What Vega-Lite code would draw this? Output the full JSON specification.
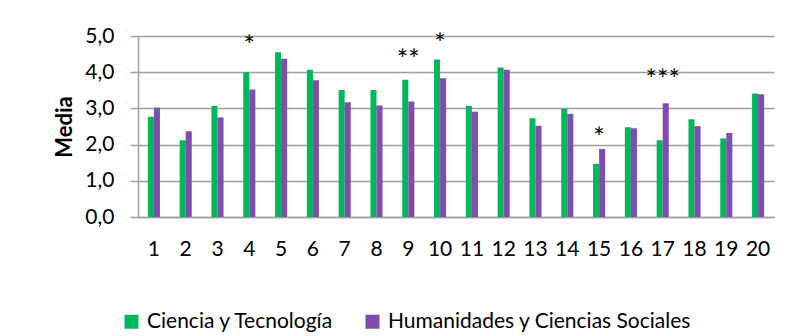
{
  "$schema": "https://vega.github.io/schema/vega-lite/v6.json",
  "width": 636,
  "height": 181,
  "autosize": "none",
  "padding": {"left": 138, "top": 36, "right": 31, "bottom": 119},
  "config": {
    "font": "Lato",
    "view": {"stroke": null},
    "axis": {"labelColor": "#000000", "titleColor": "#000000"}
  },
  "datasets": {
    "medias": [
      {"item": 1, "grupo": "Ciencia y Tecnología", "media": 2.77},
      {"item": 1, "grupo": "Humanidades y Ciencias Sociales", "media": 3.02},
      {"item": 2, "grupo": "Ciencia y Tecnología", "media": 2.12},
      {"item": 2, "grupo": "Humanidades y Ciencias Sociales", "media": 2.37},
      {"item": 3, "grupo": "Ciencia y Tecnología", "media": 3.07},
      {"item": 3, "grupo": "Humanidades y Ciencias Sociales", "media": 2.75},
      {"item": 4, "grupo": "Ciencia y Tecnología", "media": 4.0},
      {"item": 4, "grupo": "Humanidades y Ciencias Sociales", "media": 3.52},
      {"item": 5, "grupo": "Ciencia y Tecnología", "media": 4.55},
      {"item": 5, "grupo": "Humanidades y Ciencias Sociales", "media": 4.37},
      {"item": 6, "grupo": "Ciencia y Tecnología", "media": 4.07},
      {"item": 6, "grupo": "Humanidades y Ciencias Sociales", "media": 3.78},
      {"item": 7, "grupo": "Ciencia y Tecnología", "media": 3.51},
      {"item": 7, "grupo": "Humanidades y Ciencias Sociales", "media": 3.17},
      {"item": 8, "grupo": "Ciencia y Tecnología", "media": 3.51},
      {"item": 8, "grupo": "Humanidades y Ciencias Sociales", "media": 3.08},
      {"item": 9, "grupo": "Ciencia y Tecnología", "media": 3.79},
      {"item": 9, "grupo": "Humanidades y Ciencias Sociales", "media": 3.19},
      {"item": 10, "grupo": "Ciencia y Tecnología", "media": 4.35},
      {"item": 10, "grupo": "Humanidades y Ciencias Sociales", "media": 3.83},
      {"item": 11, "grupo": "Ciencia y Tecnología", "media": 3.07},
      {"item": 11, "grupo": "Humanidades y Ciencias Sociales", "media": 2.91},
      {"item": 12, "grupo": "Ciencia y Tecnología", "media": 4.13},
      {"item": 12, "grupo": "Humanidades y Ciencias Sociales", "media": 4.07},
      {"item": 13, "grupo": "Ciencia y Tecnología", "media": 2.73},
      {"item": 13, "grupo": "Humanidades y Ciencias Sociales", "media": 2.52},
      {"item": 14, "grupo": "Ciencia y Tecnología", "media": 2.99},
      {"item": 14, "grupo": "Humanidades y Ciencias Sociales", "media": 2.85},
      {"item": 15, "grupo": "Ciencia y Tecnología", "media": 1.47},
      {"item": 15, "grupo": "Humanidades y Ciencias Sociales", "media": 1.88},
      {"item": 16, "grupo": "Ciencia y Tecnología", "media": 2.48},
      {"item": 16, "grupo": "Humanidades y Ciencias Sociales", "media": 2.45},
      {"item": 17, "grupo": "Ciencia y Tecnología", "media": 2.12},
      {"item": 17, "grupo": "Humanidades y Ciencias Sociales", "media": 3.14},
      {"item": 18, "grupo": "Ciencia y Tecnología", "media": 2.7},
      {"item": 18, "grupo": "Humanidades y Ciencias Sociales", "media": 2.51},
      {"item": 19, "grupo": "Ciencia y Tecnología", "media": 2.17},
      {"item": 19, "grupo": "Humanidades y Ciencias Sociales", "media": 2.32},
      {"item": 20, "grupo": "Ciencia y Tecnología", "media": 3.41},
      {"item": 20, "grupo": "Humanidades y Ciencias Sociales", "media": 3.39}
    ],
    "significancia": [
      {"item": 4, "media": 4.84, "marca": "*"},
      {"item": 9, "media": 4.44, "marca": "**"},
      {"item": 10, "media": 4.88, "marca": "*"},
      {"item": 15, "media": 2.28, "marca": "*"},
      {"item": 17, "media": 3.89, "marca": "***"}
    ]
  },
  "encoding": {
    "x": {
      "field": "item",
      "type": "ordinal",
      "scale": {"paddingInner": 0.62, "paddingOuter": 0.31},
      "axis": {
        "title": null,
        "labelAngle": 0,
        "labelFontSize": 21,
        "labelPadding": 21,
        "ticks": false,
        "domainColor": "#a0a0a0",
        "domainWidth": 1.5,
        "grid": false
      }
    },
    "y": {
      "field": "media",
      "type": "quantitative",
      "scale": {"domain": [0, 5], "nice": false},
      "axis": {
        "title": "Media",
        "titleFontSize": 22,
        "titleFontWeight": "bold",
        "titlePadding": 8,
        "values": [0, 1, 2, 3, 4, 5],
        "labelOverlap": false,
        "labelExpr": "replace(format(datum.value, '.1f'), '.', ',')",
        "labelFontSize": 21,
        "labelPadding": 16,
        "tickSize": 8,
        "tickColor": "#a0a0a0",
        "tickWidth": 1.5,
        "domainColor": "#a0a0a0",
        "domainWidth": 1.5,
        "grid": true,
        "gridColor": "#a0a0a0",
        "gridWidth": 1.5
      }
    }
  },
  "layer": [
    {
      "data": {"name": "medias"},
      "mark": {"type": "bar", "stroke": null},
      "encoding": {
        "xOffset": {
          "field": "grupo",
          "type": "nominal",
          "scale": {"paddingInner": 0, "paddingOuter": 0}
        },
        "color": {
          "field": "grupo",
          "type": "nominal",
          "scale": {
            "domain": ["Ciencia y Tecnología", "Humanidades y Ciencias Sociales"],
            "range": ["#00b85c", "#7f4cb0"]
          },
          "legend": {
            "title": null,
            "orient": "none",
            "direction": "horizontal",
            "legendX": -17,
            "legendY": 275,
            "symbolType": "square",
            "symbolSize": 196,
            "symbolStrokeWidth": 0,
            "symbolOpacity": 1,
            "labelFontSize": 21,
            "labelLimit": 500,
            "labelColor": "#000000",
            "labelOffset": 5,
            "columnPadding": 28
          }
        }
      }
    },
    {
      "data": {"name": "significancia"},
      "mark": {"type": "text", "fontSize": 27, "baseline": "middle", "align": "center", "color": "#000000", "dy": 5},
      "encoding": {
        "text": {"field": "marca"}
      }
    }
  ]
}
